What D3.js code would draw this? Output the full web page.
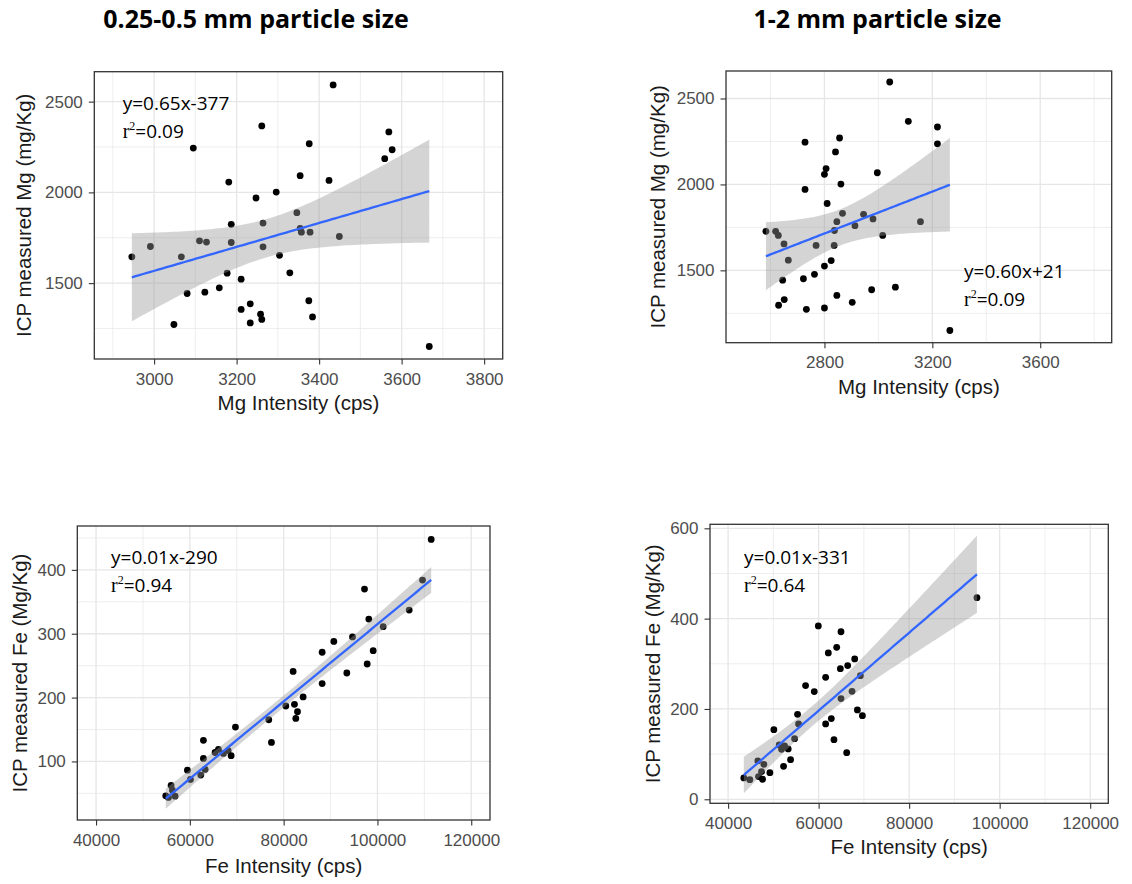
<!DOCTYPE html>
<html>
<head>
<meta charset="utf-8">
<script src="https://cdn.jsdelivr.net/npm/d3@7"></script>
<style>
body { margin: 0; background: #fff; }
.tick text { font-family: "Liberation Sans", Arial, sans-serif; fill: #4d4d4d; }
.tick line { stroke: #333; }
.axis-title { font-family: "Liberation Sans", Arial, sans-serif; fill: #1a1a1a; }
.grid line { stroke: #e6e6e6; }
.eq { font-family: "Open Sans", sans-serif; fill: #000; }
.serif { font-family: "Liberation Serif", "Times New Roman", serif; }
.title { font-family: "Open Sans", sans-serif; font-weight: bold; fill: #000; }
</style>
</head>
<body>
<svg id="chart" width="1132" height="884"></svg>
<script>
// column titles
var columnTitles = ["0.25-0.5 mm particle size", "1-2 mm particle size"];

// Mg, 0.25-0.5 mm
var mgFineX = [3434, 3261, 3569, 3376, 3095, 3577, 3559, 3354, 3424, 3181, 3296, 3247, 3346, 3187,
    3264, 3354, 3357, 3378, 3449, 3110, 3127, 3187, 2991, 3264, 2946, 3066, 3304, 3177, 3329, 3211,
    3158, 3080, 3123, 3375, 3233, 3211, 3258, 3261, 3233, 3384, 3048, 3667];
var mgFineY = [2592, 2366, 2333, 2268, 2244, 2235, 2186, 2092, 2066, 2057, 2002, 1969, 1888, 1824,
    1831, 1801, 1781, 1781, 1757, 1733, 1726, 1724, 1702, 1700, 1645, 1645, 1653, 1555, 1557, 1522,
    1474, 1443, 1450, 1403, 1386, 1355, 1329, 1300, 1281, 1314, 1272, 1151];
var mgFineXLimits = [2855, 3845];
var mgFineYLimits = [1082, 2665];
var mgFineXTicks = [3000, 3200, 3400, 3600, 3800];
var mgFineXMinor = [2900, 3100, 3300, 3500, 3700];

// Mg, 1-2 mm
var mgCoarseX = [3042, 3111, 3219, 2728, 2856, 2841, 3219, 2806, 2800, 2996, 2728, 2861, 2810, 2867,
    2945, 2846, 2913, 2980, 3156, 2837, 3016, 2583, 2619, 2629, 2650, 2769, 2836, 2666, 2825, 2800,
    2763, 2722, 2645, 3063, 2975, 2846, 2651, 2630, 2903, 2733, 2800, 3265];
var mgCoarseY = [2596, 2367, 2334, 2246, 2270, 2189, 2236, 2092, 2059, 2068, 1971, 2002, 1889, 1832,
    1826, 1783, 1760, 1799, 1783, 1732, 1703, 1727, 1727, 1703, 1654, 1645, 1645, 1559, 1557, 1525,
    1477, 1451, 1443, 1402, 1387, 1354, 1330, 1297, 1314, 1273, 1281, 1150];
var mgCoarseXLimits = [2435, 3865];
var mgCoarseYLimits = [1079, 2660];
var mgCoarseXTicks = [2800, 3200, 3600];
var mgCoarseXMinor = [2600, 3000, 3400, 3800];

var mgYTicks = [1500, 2000, 2500];
var mgYMinor = [1250, 1750, 2250];

// Fe, 0.25-0.5 mm
var feFineX = [111460, 109610, 97240, 106770, 98160, 101220, 94680, 90700, 88210, 99090, 97810,
    93470, 82020, 88210, 84150, 80460, 82300, 82950, 82590, 76830, 77400, 69720, 62890, 62890,
    66090, 65380, 68160, 68800, 63250, 62330, 59480, 60120, 56000, 54860, 56850, 55430, 56280, 67160];
var feFineY = [447.6, 384, 370, 337, 323, 311, 295, 288, 271, 273.5, 252.6,
    238.5, 241, 222, 201, 186.8, 189.4, 177.9, 167.4, 165.3, 129.8, 153.8, 133, 104.7,
    118.8, 114, 117, 109, 87.5, 78.6, 86.4, 71.8, 62.4, 46.2, 45.6, 43.6, 55, 112.5];
var feFineYLimits = [8.3, 468.7];
var feFineYTicks = [100, 200, 300, 400];
var feFineYMinor = [50, 150, 250, 350, 450];

// Fe, 1-2 mm
var feCoarseX = [94980, 59930, 64940, 63990, 62140, 67970, 66420, 64800, 61550, 69220, 57120,
    59040, 67380, 64940, 68560, 69670, 55350, 55570, 62800, 61550, 54690, 63390, 50110, 51290,
    52470, 51810, 53280, 52250, 53800, 66200, 46570, 47900, 49230, 46720, 47600, 43470, 44800, 47380];
var feCoarseY = [446.5, 383.8, 371, 336.5, 324, 310.7, 296, 289.3, 270, 273.8, 251.7,
    238.4, 239, 222.9, 197.8, 185.2, 188.2, 166.8, 178.6, 166.8, 134.3, 132, 154.2, 120.3,
    118, 110.7, 111.4, 73, 87.8, 103.3, 84.9, 77.5, 59, 50.2, 44.3, 47.2, 43.5, 61.3];
var feCoarseYLimits = [-8.9, 608.9];
var feCoarseYTicks = [0, 200, 400, 600];
var feCoarseYMinor = [100, 300, 500];

var feXLimits = [36000, 124000];
var feXTicks = [40000, 60000, 80000, 100000, 120000];
var feXMinor = [50000, 70000, 90000, 110000];

// equations printed in the panels
var equations = ["y=0.65x-377", "y=0.60x+21", "y=0.01x-290", "y=0.01x-331"];
var rSquared = ["0.09", "0.09", "0.94", "0.64"];

var panels = [
    {x: mgFineX, y: mgFineY, xLim: mgFineXLimits, yLim: mgFineYLimits,
     xTicks: mgFineXTicks, xMinor: mgFineXMinor, yTicks: mgYTicks, yMinor: mgYMinor,
     xTitle: "Mg Intensity (cps)", yTitle: "ICP measured Mg (mg/Kg)",
     eq: equations[0], r2: rSquared[0],
     left: 94.3, top: 71.7, width: 408.4, height: 287.3,
     eqX: 122.7, eqY: 110, xTitleY: 410, yTitleX: 24},
    {x: mgCoarseX, y: mgCoarseY, xLim: mgCoarseXLimits, yLim: mgCoarseYLimits,
     xTicks: mgCoarseXTicks, xMinor: mgCoarseXMinor, yTicks: mgYTicks, yMinor: mgYMinor,
     xTitle: "Mg Intensity (cps)", yTitle: "ICP measured Mg (mg/Kg)",
     eq: equations[1], r2: rSquared[1],
     left: 726, top: 71, width: 385.7, height: 271.7,
     eqX: 964, eqY: 278.3, xTitleY: 393.5, yTitleX: 658},
    {x: feFineX, y: feFineY, xLim: feXLimits, yLim: feFineYLimits,
     xTicks: feXTicks, xMinor: feXMinor, yTicks: feFineYTicks, yMinor: feFineYMinor,
     xTitle: "Fe Intensity (cps)", yTitle: "ICP measured Fe (Mg/Kg)",
     eq: equations[2], r2: rSquared[2],
     left: 77.3, top: 526, width: 412.7, height: 294,
     eqX: 111, eqY: 564, xTitleY: 873, yTitleX: 20},
    {x: feCoarseX, y: feCoarseY, xLim: feXLimits, yLim: feCoarseYLimits,
     xTicks: feXTicks, xMinor: feXMinor, yTicks: feCoarseYTicks, yMinor: feCoarseYMinor,
     xTitle: "Fe Intensity (cps)", yTitle: "ICP measured Fe (Mg/Kg)",
     eq: equations[3], r2: rSquared[3],
     left: 710, top: 524.3, width: 398.3, height: 279,
     eqX: 744, eqY: 564, xTitleY: 854, yTitleX: 653}
];

var svg = d3.select("#chart");

svg.selectAll("text.title")
    .data(columnTitles)
    .enter().append("text")
    .attr("class", "title")
    .attr("x", function(d, i) { return i == 0 ? 256 : 877.5; })
    .attr("y", 28)
    .attr("text-anchor", "middle")
    .style("font-size", "25px")
    .text(function(d) { return d; });

// t quantile (0.975) via Cornish-Fisher expansion
function tQuantile975(df) {
    var z = 1.959964;
    return z + (z * z * z + z) / (4 * df)
        + (5 * Math.pow(z, 5) + 16 * z * z * z + 3 * z) / (96 * df * df);
}

function linearFit(xs, ys) {
    var n = xs.length,
        mx = d3.mean(xs),
        my = d3.mean(ys);
    var sxx = d3.sum(xs, function(v) { return (v - mx) * (v - mx); });
    var sxy = d3.sum(xs, function(v, i) { return (v - mx) * (ys[i] - my); });
    var slope = sxy / sxx,
        intercept = my - slope * mx;
    var sse = d3.sum(xs, function(v, i) {
        var r = ys[i] - (intercept + slope * v);
        return r * r;
    });
    var s = Math.sqrt(sse / (n - 2)),
        t = tQuantile975(n - 2),
        ext = d3.extent(xs);
    return d3.range(80).map(function(k) {
        var x0 = ext[0] + (ext[1] - ext[0]) * k / 79;
        var fit = intercept + slope * x0;
        var se = s * Math.sqrt(1 / n + (x0 - mx) * (x0 - mx) / sxx);
        return {x: x0, fit: fit, lo: fit - t * se, hi: fit + t * se};
    });
}

function drawPanel(p) {
    var g = svg.append("g")
        .attr("transform", "translate(" + p.left + "," + p.top + ")");
    var x = d3.scaleLinear().domain(p.xLim).range([0, p.width]);
    var y = d3.scaleLinear().domain(p.yLim).range([p.height, 0]);

    var grid = g.append("g").attr("class", "grid");
    grid.selectAll("line.vminor").data(p.xMinor).enter().append("line")
        .attr("x1", x).attr("x2", x).attr("y1", 0).attr("y2", p.height)
        .style("stroke-width", 0.7);
    grid.selectAll("line.hminor").data(p.yMinor).enter().append("line")
        .attr("y1", y).attr("y2", y).attr("x1", 0).attr("x2", p.width)
        .style("stroke-width", 0.7);
    grid.selectAll("line.vmajor").data(p.xTicks).enter().append("line")
        .attr("x1", x).attr("x2", x).attr("y1", 0).attr("y2", p.height)
        .style("stroke-width", 1.3);
    grid.selectAll("line.hmajor").data(p.yTicks).enter().append("line")
        .attr("y1", y).attr("y2", y).attr("x1", 0).attr("x2", p.width)
        .style("stroke-width", 1.3);

    g.selectAll("circle")
        .data(p.x.map(function(v, i) { return [v, p.y[i]]; }))
        .enter().append("circle")
        .attr("cx", function(d) { return x(d[0]); })
        .attr("cy", function(d) { return y(d[1]); })
        .attr("r", 3.4)
        .style("fill", "#000");

    var fit = linearFit(p.x, p.y);
    g.append("path")
        .datum(fit)
        .attr("d", d3.area()
            .x(function(d) { return x(d.x); })
            .y0(function(d) { return y(d.lo); })
            .y1(function(d) { return y(d.hi); }))
        .style("fill", "#999")
        .style("fill-opacity", 0.42);
    g.append("path")
        .datum(fit)
        .attr("d", d3.line()
            .x(function(d) { return x(d.x); })
            .y(function(d) { return y(d.fit); }))
        .style("fill", "none")
        .style("stroke", "#3366ff")
        .style("stroke-width", 2.3);

    g.append("rect")
        .attr("width", p.width).attr("height", p.height)
        .style("fill", "none")
        .style("stroke", "#333")
        .style("stroke-width", 1.3);

    var xAxis = g.append("g")
        .attr("transform", "translate(0," + p.height + ")")
        .call(d3.axisBottom(x).tickValues(p.xTicks).tickFormat(d3.format("d"))
            .tickSize(5.5).tickPadding(8));
    var yAxis = g.append("g")
        .call(d3.axisLeft(y).tickValues(p.yTicks).tickFormat(d3.format("d"))
            .tickSize(5.5).tickPadding(6));
    [xAxis, yAxis].forEach(function(a) {
        a.select(".domain").remove();
        a.selectAll(".tick text").style("font-size", "17px");
        a.selectAll(".tick line").style("stroke-width", 1.1);
    });

    svg.append("text")
        .attr("class", "axis-title")
        .attr("x", p.left + p.width / 2)
        .attr("y", p.xTitleY)
        .attr("text-anchor", "middle")
        .style("font-size", "20.5px")
        .text(p.xTitle);
    svg.append("text")
        .attr("class", "axis-title")
        .attr("transform", "translate(" + p.yTitleX + "," + (p.top + p.height / 2) + ") rotate(-90)")
        .attr("dy", "0.35em")
        .attr("text-anchor", "middle")
        .style("font-size", "20.5px")
        .text(p.yTitle);

    svg.append("text")
        .attr("class", "eq")
        .attr("x", p.eqX).attr("y", p.eqY)
        .style("font-size", "19px")
        .text(p.eq);
    var r2 = svg.append("text")
        .attr("class", "eq")
        .attr("x", p.eqX).attr("y", p.eqY + 28)
        .style("font-size", "19px");
    r2.append("tspan").attr("class", "serif").style("font-size", "20px").text("r");
    r2.append("tspan").attr("class", "serif").attr("dy", -8).style("font-size", "12px").text("2");
    r2.append("tspan").attr("dy", 8).text("=" + p.r2);
}

panels.forEach(drawPanel);
</script>
</body>
</html>
